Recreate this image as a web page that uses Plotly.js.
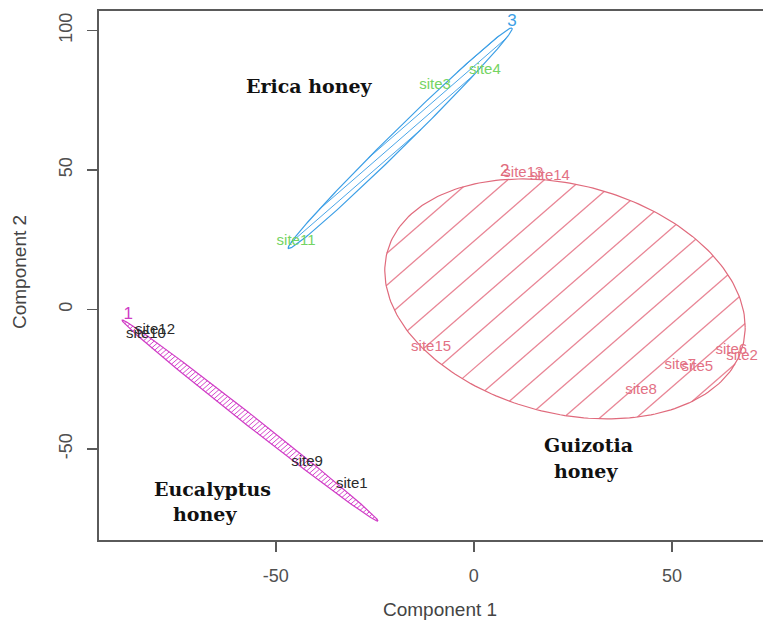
<!DOCTYPE html>
<html>
<head>
<meta charset="utf-8">
<script src="https://cdn.plot.ly/plotly-3.0.1.min.js"></script>
<style>html,body{margin:0;padding:0;background:#fff;}#chart{width:763px;height:621px;}</style>
</head>
<body>
<div id="chart"></div>
<script>
// ---- Site labels (component scores) ----
const eucSites = ["site12", "site10", "site9", "site1"];
const eucX = [-80.5, -82.8, -42.1, -30.8];
const eucY = [-7.3, -8.8, -54.7, -62.5];

const ericaSites = ["site3", "site4", "site11"];
const ericaX = [-9.8, 2.8, -44.9];
const ericaY = [80.5, 85.8, 24.6];

const guizSites = ["site13", "site14", "site15", "site8", "site7", "site5", "site6", "site2"];
const guizX = [12.5, 19.2, -10.8, 42.2, 52.1, 56.4, 65.0, 67.7];
const guizY = [48.9, 47.8, -13.4, -28.9, -19.9, -20.6, -14.5, -16.7];

// ---- Cluster numbers ----
const clusterIds = ["1", "2", "3"];
const clusterIdX = [-87.3, 7.8, 9.6];
const clusterIdY = [-2.0, 49.3, 103.0];

// ---- Cluster ellipses: centre, first axis vector, second axis vector ----
const ellNames = ["Eucalyptus", "Guizotia", "Erica"];
const ellCx = [-56.5, 23.0, -18.6];
const ellCy = [-39.8, 3.8, 61.4];
const ellUx = [32.3, 45.5, 28.25];
const ellUy = [-36.0, -10.1, 39.5];
const ellVx = [-0.85, 0.0, 1.5];
const ellVy = [-1.55, 41.8, -2.15];
const hatchSpacingPx = [3.6, 24, 6.5];

// ---- Group captions ----
const captionText = ["Erica honey", "Guizotia", "honey", "Eucalyptus", "honey"];
const captionX = [-41.4, 28.9, 28.4, -66.0, -67.8];
const captionY = [80.1, -48.6, -57.9, -64.3, -73.4];

// ---- Axes ----
const xTicks = [-50, 0, 50];
const yTicks = [-50, 0, 50, 100];
const xRange = [-94.65, 73.0];
const yRange = [-82.6, 107.0];

const W = 763, H = 621;
const M = {l: 99, r: 0, t: 11, b: 81};
const plotW = W - M.l - M.r, plotH = H - M.t - M.b;
const sx = plotW / (xRange[1] - xRange[0]);
const sy = plotH / (yRange[1] - yRange[0]);

const outlineColors = ["#D03CC6", "#E06A7C", "#3C9FE6"];
const hatchColors = ["#D64ACD", "#E98696", "#4AA6E8"];
const hatchAngle = 41; // degrees, on screen
const hatchPhase = 443.7; // px

function ellipsePoint(i, t) {
  return [ellCx[i] + ellUx[i] * Math.cos(t) + ellVx[i] * Math.sin(t),
          ellCy[i] + ellUy[i] * Math.cos(t) + ellVy[i] * Math.sin(t)];
}
function outline(i) {
  const xs = [], ys = [];
  for (let k = 0; k <= 240; k++) {
    const p = ellipsePoint(i, 2 * Math.PI * k / 240);
    xs.push(p[0]); ys.push(p[1]);
  }
  return {x: xs, y: ys};
}
function hatch(i) {
  const a = hatchAngle * Math.PI / 180;
  const n = [Math.sin(a), Math.cos(a)];
  const c = [(ellCx[i] - xRange[0]) * sx, (yRange[1] - ellCy[i]) * sy];
  const u = [ellUx[i] * sx, -ellUy[i] * sy];
  const v = [ellVx[i] * sx, -ellVy[i] * sy];
  const A = n[0] * u[0] + n[1] * u[1];
  const B = n[0] * v[0] + n[1] * v[1];
  const R = Math.hypot(A, B), phi = Math.atan2(B, A);
  const nc = n[0] * c[0] + n[1] * c[1];
  const sp = hatchSpacingPx[i];
  const xs = [], ys = [];
  let k = Math.ceil((nc - R - hatchPhase) / sp);
  for (;; k++) {
    const d = hatchPhase + k * sp;
    if (d >= nc + R) break;
    const r = (d - nc) / R;
    if (Math.abs(r) >= 1) continue;
    const dt = Math.acos(r);
    const p1 = ellipsePoint(i, phi + dt), p2 = ellipsePoint(i, phi - dt);
    xs.push(p1[0], p2[0], null); ys.push(p1[1], p2[1], null);
  }
  return {x: xs, y: ys};
}

const traces = [];
for (let i = 0; i < ellNames.length; i++) {
  const h = hatch(i);
  traces.push({type: "scatter", mode: "lines", x: h.x, y: h.y, connectgaps: false,
    line: {color: hatchColors[i], width: i === 1 ? 1.3 : 1}, hoverinfo: "skip", name: ellNames[i] + " shade"});
  const o = outline(i);
  traces.push({type: "scatter", mode: "lines", x: o.x, y: o.y,
    line: {color: outlineColors[i], width: 1.2}, hoverinfo: "skip", name: ellNames[i]});
}
const labelFont = {family: "Liberation Sans, Arial, sans-serif", size: 15};
traces.push({type: "scatter", mode: "text", x: eucX, y: eucY, text: eucSites,
  textfont: Object.assign({color: "#2a2a2a"}, labelFont), name: "Eucalyptus sites"});
traces.push({type: "scatter", mode: "text", x: ericaX, y: ericaY, text: ericaSites,
  textfont: Object.assign({color: "#74D463"}, labelFont), name: "Erica sites"});
traces.push({type: "scatter", mode: "text", x: guizX, y: guizY, text: guizSites,
  textfont: Object.assign({color: "#E37184"}, labelFont), name: "Guizotia sites"});
traces.push({type: "scatter", mode: "text", x: clusterIdX, y: clusterIdY, text: clusterIds,
  textfont: {family: "Liberation Sans, Arial, sans-serif", size: 17, color: ["#D03CC6", "#E06A7C", "#3C9FE6"]},
  name: "clusters"});

const annotations = captionText.map((t, i) => ({
  x: captionX[i], y: captionY[i], xref: "x", yref: "y", text: "<b>" + t + "</b>",
  showarrow: false, xanchor: "center", yanchor: "middle",
  font: {family: "DejaVu Serif, serif", size: 19, color: "#111"}
}));
annotations.push({x: (440 - M.l) / plotW, y: 1 - (609 - M.t) / plotH, xref: "paper", yref: "paper",
  text: "Component 1", showarrow: false, xanchor: "center", yanchor: "middle",
  font: {family: "Liberation Sans, Arial, sans-serif", size: 19, color: "#444"}});
annotations.push({x: (19 - M.l) / plotW, y: 1 - (272 - M.t) / plotH, xref: "paper", yref: "paper",
  text: "Component 2", showarrow: false, xanchor: "center", yanchor: "middle", textangle: -90,
  font: {family: "Liberation Sans, Arial, sans-serif", size: 19, color: "#444"}});

const axisCommon = {
  showgrid: false, zeroline: false, showline: true, linecolor: "#5a5a5a", linewidth: 2,
  ticks: "outside", ticklen: 10, tickwidth: 1.5, tickcolor: "#5a5a5a",
  tickfont: {family: "Liberation Sans, Arial, sans-serif", size: 18, color: "#505050"},
  fixedrange: true
};
const layout = {
  width: W, height: H, margin: M, showlegend: false,
  paper_bgcolor: "#fff", plot_bgcolor: "#fff",
  xaxis: Object.assign({}, axisCommon, {range: xRange, tickvals: xTicks, ticktext: xTicks.map(String),
    mirror: true, ticklabelstandoff: 8}),
  yaxis: Object.assign({}, axisCommon, {range: yRange, tickvals: yTicks, ticktext: yTicks.map(String),
    tickangle: -90, ticklabelstandoff: 8}),
  annotations: annotations
};
Plotly.newPlot("chart", traces, layout, {displayModeBar: false, staticPlot: true});
</script>
</body>
</html>
